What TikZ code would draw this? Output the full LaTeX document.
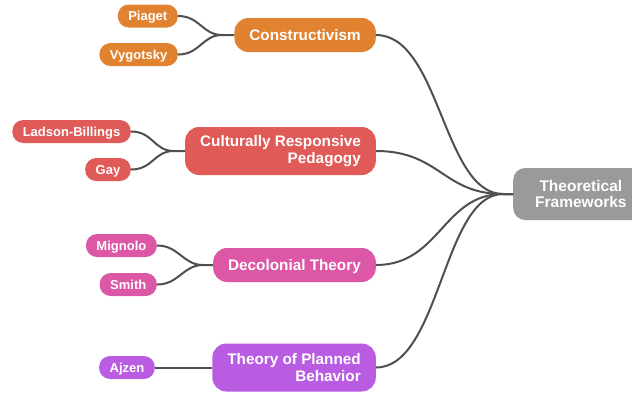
\documentclass[tikz,border=0pt]{standalone}
\usepackage{fontspec}
\setmainfont{Liberation Sans}
\definecolor{corange}{HTML}{E0822F}
\definecolor{cred}{HTML}{E05A57}
\definecolor{cpink}{HTML}{DC57A6}
\definecolor{cpurple}{HTML}{B95CE2}
\definecolor{cgray}{HTML}{9A9A9A}
\definecolor{cline}{HTML}{4F4F4F}
\tikzset{
  base/.style={rectangle, text=white, inner ysep=0pt, font=\bfseries},
  child/.style={base, rounded corners=11pt, minimum height=23pt, text height=9.5pt, text depth=0pt, inner xsep=10.5pt, font=\fontsize{13}{15}\selectfont\bfseries},
  cat/.style={base, rounded corners=14pt, inner xsep=15pt, align=right, font=\fontsize{15.3}{16.5}\selectfont\bfseries},
  catone/.style={cat, text height=11pt, text depth=0pt},
  rootbox/.style={base, rounded corners=12pt, fill=cgray, minimum height=52pt, inner xsep=22pt, align=center, font=\fontsize{15.5}{16.5}\selectfont\bfseries},
  link/.style={draw=cline, line width=2pt}
}
\begin{document}
\begin{tikzpicture}[x=1pt,y=-1pt]
\useasboundingbox (0,0) rectangle (632,392);
\clip (0,0) rectangle (632,392);
% root
\node[rootbox, anchor=west] (root) at (513,194) {Theoretical\\Frameworks};
% categories
\node[catone, fill=corange, minimum height=34pt, anchor=east] (con) at (376,35) {Constructivism};
\node[cat, fill=cred, minimum height=48pt, anchor=east] (crp) at (376,151) {Culturally Responsive\\Pedagogy};
\node[catone, fill=cpink, minimum height=34pt, anchor=east] (dec) at (376,265) {Decolonial Theory};
\node[cat, fill=cpurple, minimum height=48pt, anchor=east] (tpb) at (376,367.5) {Theory of Planned\\Behavior};
% children
\node[child, fill=corange, anchor=east] (pia) at (178,16) {Piaget};
\node[child, fill=corange, anchor=east] (vyg) at (178,54.5) {Vygotsky};
\node[child, fill=cred, anchor=east] (lad) at (131,131.5) {Ladson-Billings};
\node[child, fill=cred, anchor=east] (gay) at (131,169.5) {Gay};
\node[child, fill=cpink, anchor=east] (mig) at (157,245.5) {Mignolo};
\node[child, fill=cpink, anchor=east] (smi) at (157,284.5) {Smith};
\node[child, fill=cpurple, anchor=east] (ajz) at (155,367.5) {Ajzen};
% junctions
\coordinate (jroot) at ([xshift=-10pt]root.west);
\coordinate (jcon) at ([xshift=-12pt]con.west);
\coordinate (jcrp) at ([xshift=-11pt]crp.west);
\coordinate (jdec) at ([xshift=-10pt]dec.west);
% category to root
\foreach \c in {con,crp,dec,tpb}{
  \draw[link] (\c.east) .. controls ([xshift=64pt]\c.east) and ([xshift=-60pt]jroot) .. (jroot) -- (root.west);
}
% children to categories
\draw[link] (pia.east) .. controls ([xshift=22pt]pia.east) and ([xshift=-20pt]jcon) .. (jcon) -- (con.west);
\draw[link] (vyg.east) .. controls ([xshift=22pt]vyg.east) and ([xshift=-20pt]jcon) .. (jcon);
\draw[link] (lad.east) .. controls ([xshift=22pt]lad.east) and ([xshift=-20pt]jcrp) .. (jcrp) -- (crp.west);
\draw[link] (gay.east) .. controls ([xshift=22pt]gay.east) and ([xshift=-20pt]jcrp) .. (jcrp);
\draw[link] (mig.east) .. controls ([xshift=22pt]mig.east) and ([xshift=-20pt]jdec) .. (jdec) -- (dec.west);
\draw[link] (smi.east) .. controls ([xshift=22pt]smi.east) and ([xshift=-20pt]jdec) .. (jdec);
\draw[link] (ajz.east) -- (tpb.west);
\end{tikzpicture}
\end{document}
